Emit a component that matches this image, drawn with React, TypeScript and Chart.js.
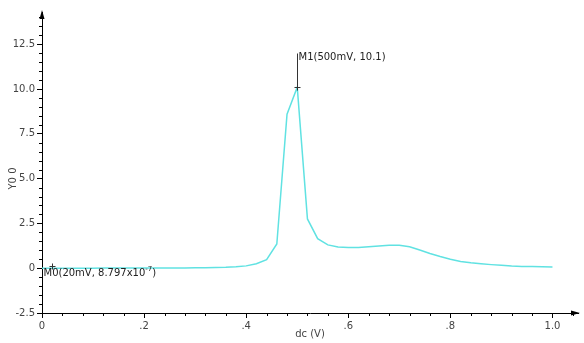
import React, { useEffect, useRef } from 'react';
import { Chart, registerables } from 'chart.js';
Chart.register(...registerables);

const dcVolts = [
  0, 0.02, 0.04, 0.06, 0.08, 0.1, 0.12, 0.14, 0.16, 0.18, 0.2,
  0.22, 0.24, 0.26, 0.28, 0.3, 0.32, 0.34, 0.36, 0.38, 0.4,
  0.42, 0.44, 0.46, 0.48, 0.5, 0.52, 0.54, 0.56, 0.58, 0.6,
  0.62, 0.64, 0.66, 0.68, 0.7, 0.72, 0.74, 0.76, 0.78, 0.8,
  0.82, 0.84, 0.86, 0.88, 0.9, 0.92, 0.94, 0.96, 0.98, 1.0,
];
const y0Values = [
  0, 0.0000008797, 0.001, 0.002, 0.003, 0.004, 0.005, 0.006, 0.007, 0.008, 0.009,
  0.01, 0.012, 0.014, 0.017, 0.02, 0.025, 0.035, 0.05, 0.08, 0.13,
  0.25, 0.48, 1.35, 8.6, 10.1, 2.75, 1.65, 1.3, 1.18, 1.15,
  1.16, 1.2, 1.24, 1.28, 1.28, 1.2, 1.02, 0.82, 0.65, 0.5,
  0.38, 0.3, 0.25, 0.2, 0.16, 0.12, 0.1, 0.09, 0.08, 0.07,
];
const xTickValues = [0, 0.2, 0.4, 0.6, 0.8, 1.0];
const xTickLabels = ['0', '.2', '.4', '.6', '.8', '1.0'];
const yTickValues = [-2.5, 0, 2.5, 5, 7.5, 10, 12.5];
const yTickLabels = ['-2.5', '0', '2.5', '5.0', '7.5', '10.0', '12.5'];
const xTitle = 'dc (V)';
const yTitle = 'Y0 0';
const markerM0 = { x: 0.02, y: 0.0000008797, text: 'M0(20mV, 8.797x10', sup: '-7', close: ')' };
const markerM1 = { x: 0.5, y: 10.1, text: 'M1(500mV, 10.1)' };

const FONT = '"DejaVu Sans", sans-serif';

const overlay = {
  id: 'overlay',
  afterDraw(chart: any) {
    const ctx = chart.ctx;
    const xs = chart.scales.x;
    const ys = chart.scales.y;
    const a = chart.chartArea;
    ctx.save();
    ctx.strokeStyle = '#000';
    ctx.lineWidth = 1;
    // minor ticks x
    for (let i = 1; i <= 26; i++) {
      const v = i * 0.04;
      if (i % 5 === 0) continue;
      const px = Math.round(xs.getPixelForValue(v)) + 0.5;
      ctx.beginPath();
      ctx.moveTo(px, a.bottom);
      ctx.lineTo(px, a.bottom + 3);
      ctx.stroke();
    }
    // minor ticks y
    for (let i = 1; i <= 33; i++) {
      if (i % 5 === 0) continue;
      const v = -2.5 + i * 0.5;
      const py = Math.round(ys.getPixelForValue(v)) + 0.5;
      ctx.beginPath();
      ctx.moveTo(a.left - 3, py);
      ctx.lineTo(a.left, py);
      ctx.stroke();
    }
    // arrows
    ctx.fillStyle = '#000';
    ctx.beginPath();
    ctx.moveTo(a.left, a.top - 2);
    ctx.lineTo(a.left - 2.5, a.top + 7);
    ctx.lineTo(a.left + 2.5, a.top + 7);
    ctx.closePath();
    ctx.fill();
    ctx.beginPath();
    ctx.moveTo(a.right + 2, a.bottom);
    ctx.lineTo(a.right - 7, a.bottom - 2.5);
    ctx.lineTo(a.right - 7, a.bottom + 2.5);
    ctx.closePath();
    ctx.fill();

    // titles
    ctx.fillStyle = '#444';
    ctx.font = `10px ${FONT}`;
    ctx.textAlign = 'center';
    ctx.textBaseline = 'middle';
    ctx.fillText(xTitle, (a.left + a.right) / 2, 334);
    ctx.save();
    ctx.translate(13, (a.top + a.bottom) / 2 + 16);
    ctx.rotate(-Math.PI / 2);
    ctx.fillText(yTitle, 0, 0);
    ctx.restore();

    // markers
    ctx.strokeStyle = '#333';
    ctx.fillStyle = '#222';
    const plus = (px: number, py: number) => {
      ctx.beginPath();
      ctx.moveTo(px - 3, py);
      ctx.lineTo(px + 3, py);
      ctx.moveTo(px, py - 3);
      ctx.lineTo(px, py + 3);
      ctx.stroke();
    };
    // M1
    const m1x = Math.round(xs.getPixelForValue(markerM1.x)) + 0.5;
    const m1y = Math.round(ys.getPixelForValue(markerM1.y)) + 0.5;
    plus(m1x, m1y);
    ctx.beginPath();
    ctx.moveTo(m1x, m1y);
    ctx.lineTo(m1x, m1y - 34);
    ctx.stroke();
    ctx.textAlign = 'left';
    ctx.textBaseline = 'middle';
    ctx.font = `10px ${FONT}`;
    ctx.fillText(markerM1.text, m1x + 1, m1y - 30);
    // M0
    const m0x = Math.round(xs.getPixelForValue(markerM0.x)) + 0.5;
    const m0y = Math.round(ys.getPixelForValue(markerM0.y)) - 1.5;
    plus(m0x, m0y);
    let tx = m0x - 9;
    const ty = m0y + 7;
    ctx.fillText(markerM0.text, tx, ty);
    tx += ctx.measureText(markerM0.text).width;
    ctx.font = `7px ${FONT}`;
    ctx.fillText(markerM0.sup, tx, ty - 4);
    tx += ctx.measureText(markerM0.sup).width;
    ctx.font = `10px ${FONT}`;
    ctx.fillText(markerM0.close, tx, ty);
    ctx.restore();
  },
};

export default function App() {
  const ref = useRef<HTMLCanvasElement | null>(null);
  useEffect(() => {
    document.body.style.margin = '0';
    const canvas = ref.current;
    if (!canvas) return;
    const points = dcVolts.map((x, i) => ({ x, y: y0Values[i] }));
    const tickFont = { family: FONT, size: 10 };
    const chart = new Chart(canvas, {
      type: 'line',
      data: {
        datasets: [
          {
            label: 'Y0 0',
            data: points,
            borderColor: 'rgb(96, 226, 226)',
            borderWidth: 1.5,
            pointRadius: 0,
            tension: 0,
            fill: false,
          },
        ],
      },
      options: {
        responsive: false,
        animation: false,
        layout: { padding: { top: 12, right: 6, left: 0, bottom: 0 } },
        plugins: { legend: { display: false }, tooltip: { enabled: false } },
        scales: {
          x: {
            type: 'linear',
            min: 0,
            max: 1.05,
            afterBuildTicks: (s: any) => {
              s.ticks = xTickValues.map((v) => ({ value: v }));
            },
            afterFit: (s: any) => {
              s.height = 30;
            },
            ticks: {
              autoSkip: false,
              maxRotation: 0,
              padding: 2,
              color: '#444',
              font: tickFont,
              callback: (v: any) => {
                const i = xTickValues.findIndex((t) => Math.abs(t - v) < 1e-9);
                return i >= 0 ? xTickLabels[i] : '';
              },
            },
            grid: { display: true, drawOnChartArea: false, drawTicks: true, tickLength: 5, color: '#000' },
            border: { display: true, color: '#000', width: 1 },
          },
          y: {
            type: 'linear',
            min: -2.5,
            max: 14.3,
            afterBuildTicks: (s: any) => {
              s.ticks = yTickValues.map((v) => ({ value: v }));
            },
            afterFit: (s: any) => {
              s.width = 42;
            },
            ticks: {
              autoSkip: false,
              padding: 2,
              color: '#444',
              font: tickFont,
              callback: (v: any) => {
                const i = yTickValues.findIndex((t) => Math.abs(t - v) < 1e-9);
                return i >= 0 ? yTickLabels[i] : '';
              },
            },
            grid: { display: true, drawOnChartArea: false, drawTicks: true, tickLength: 5, color: '#000' },
            border: { display: true, color: '#000', width: 1 },
          },
        },
      },
      plugins: [overlay],
    } as any);
    return () => chart.destroy();
  }, []);
  return (
    <div style={{ position: 'absolute', left: 0, top: 0, width: 584, height: 343, background: '#fff' }}>
      <canvas ref={ref} width={584} height={343} />
    </div>
  );
}
